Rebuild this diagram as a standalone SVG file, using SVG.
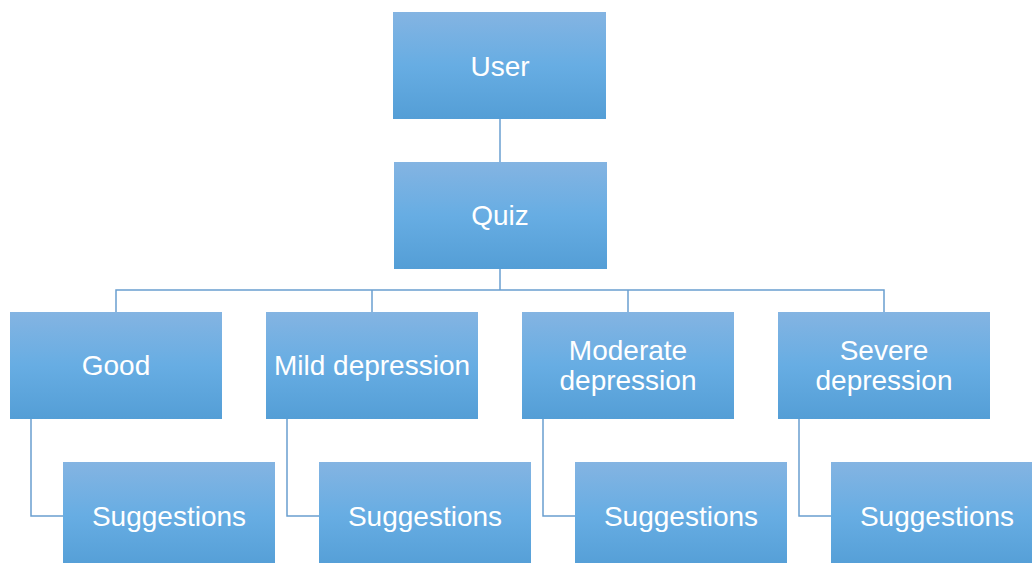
<svg xmlns="http://www.w3.org/2000/svg" width="1032" height="563" viewBox="0 0 1032 563">
<defs>
<linearGradient id="g" x1="0" y1="0" x2="0" y2="1">
<stop offset="0" stop-color="#84b4e2"/>
<stop offset="0.5" stop-color="#67ade3"/>
<stop offset="1" stop-color="#549ed6"/>
</linearGradient>
<style>
.box{fill:url(#g);}
.t{font-family:"Liberation Sans",Arial,sans-serif;font-size:28px;fill:#ffffff;text-anchor:middle;}
.c{fill:none;stroke:#6a9fd0;stroke-width:1.5;}
</style>
</defs>
<rect width="1032" height="563" fill="#ffffff"/>
<g id="connectors">
<path class="c" d="M500 119V162"/>
<path class="c" d="M500 269V290"/>
<path class="c" d="M116 312V290H884V312"/>
<path class="c" d="M372 290V312"/>
<path class="c" d="M628 290V312"/>
<path class="c" d="M31 419V516H63"/>
<path class="c" d="M287 419V516H319"/>
<path class="c" d="M543 419V516H575"/>
<path class="c" d="M799 419V516H831"/>
</g>
<g id="user"><rect class="box" x="393" y="12" width="213" height="107"/><text class="t" x="500" y="76">User</text></g>
<g id="quiz"><rect class="box" x="394" y="162" width="213" height="107"/><text class="t" x="500" y="225">Quiz</text></g>
<g id="good"><rect class="box" x="10" y="312" width="212" height="107"/><text class="t" x="116" y="375">Good</text></g>
<g id="mild"><rect class="box" x="266" y="312" width="212" height="107"/><text class="t" x="372" y="375">Mild depression</text></g>
<g id="moderate"><rect class="box" x="522" y="312" width="212" height="107"/><text class="t" x="628" y="360">Moderate</text><text class="t" x="628" y="390">depression</text></g>
<g id="severe"><rect class="box" x="778" y="312" width="212" height="107"/><text class="t" x="884" y="360">Severe</text><text class="t" x="884" y="390">depression</text></g>
<g id="sugg1"><rect class="box" x="63" y="462" width="212" height="107"/><text class="t" x="169" y="526">Suggestions</text></g>
<g id="sugg2"><rect class="box" x="319" y="462" width="212" height="107"/><text class="t" x="425" y="526">Suggestions</text></g>
<g id="sugg3"><rect class="box" x="575" y="462" width="212" height="107"/><text class="t" x="681" y="526">Suggestions</text></g>
<g id="sugg4"><rect class="box" x="831" y="462" width="212" height="107"/><text class="t" x="937" y="526">Suggestions</text></g>
</svg>
